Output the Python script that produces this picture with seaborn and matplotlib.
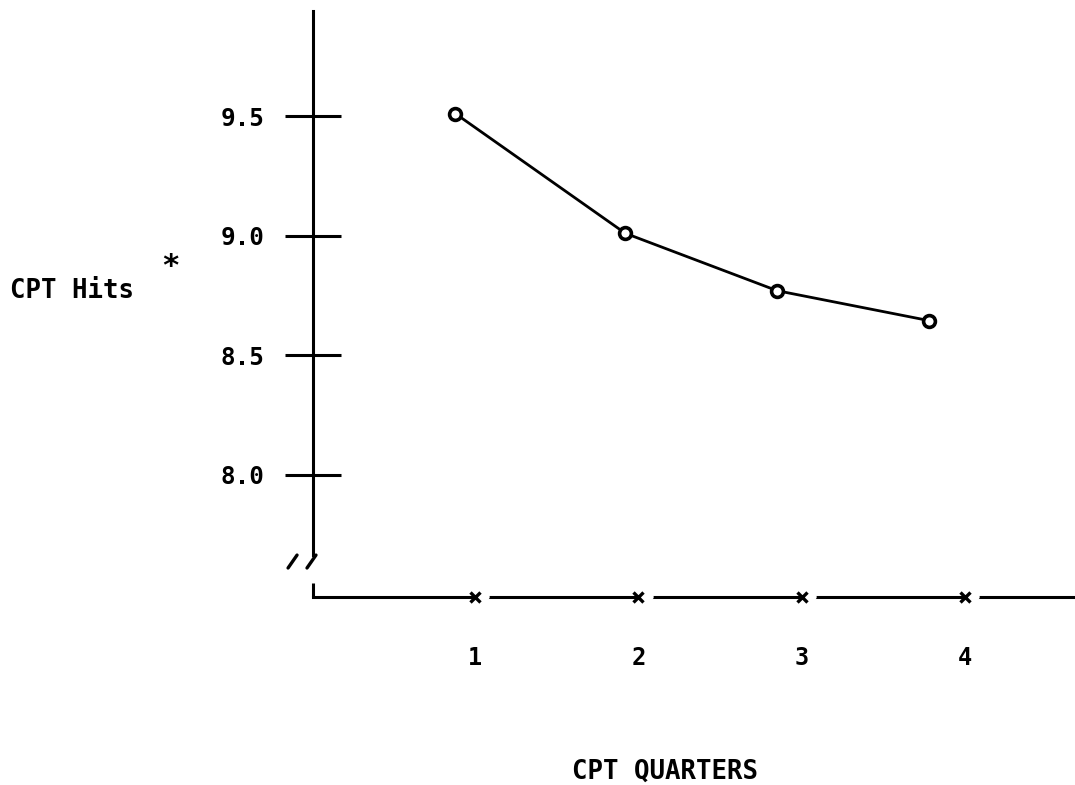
import matplotlib
matplotlib.use("Agg")
import matplotlib.pyplot as plt
import seaborn as sns
import pandas as pd

# Data
quarters = [1, 2, 3, 4]
quarter_labels = ["1", "2", "3", "4"]
point_x = [0.88, 1.92, 2.85, 3.78]      # plotted positions of the points
hits = [9.51, 9.01, 8.77, 8.645]
y_ticks = [8.0, 8.5, 9.0, 9.5]
y_tick_labels = ["8.0", "8.5", "9.0", "9.5"]

sns.set_style("white")
plt.rcParams['font.family'] = ['DejaVu Sans Mono', 'DejaVu Sans']
plt.rcParams['font.weight'] = 'bold'
plt.rcParams['text.color'] = 'black'
plt.rcParams['axes.labelcolor'] = 'black'

fig = plt.figure(figsize=(10.75, 7.85), dpi=100)
ax = fig.add_axes([0, 0, 1, 1])
ax.set_xlim(-1.909, 4.674)
ax.set_ylim(6.704, 9.985)

df = pd.DataFrame({"x": point_x, "hits": hits})
sns.lineplot(data=df, x="x", y="hits", ax=ax, color="black", linewidth=2.0,
             marker="o", markersize=8.5, markerfacecolor="white",
             markeredgecolor="black", markeredgewidth=2.6)

AXIS_Y = 7.49
# spines
for s in ["top", "right"]:
    ax.spines[s].set_visible(False)
ax.spines["left"].set_position(("data", 0.008))
ax.spines["left"].set_bounds(7.665, 9.94)
ax.spines["left"].set_linewidth(2.2)
ax.spines["left"].set_color("black")
ax.spines["bottom"].set_position(("data", AXIS_Y))
ax.spines["bottom"].set_bounds(0.008, 4.674)
ax.spines["bottom"].set_linewidth(2.2)
ax.spines["bottom"].set_color("black")

# L corner and axis break
ax.plot([0.008, 0.008], [7.548, AXIS_Y], color="black", lw=2.2, solid_capstyle="butt")
ax.plot([-0.145, -0.09], [7.611, 7.665], color="black", lw=2.4)
ax.plot([-0.029, 0.026], [7.611, 7.665], color="black", lw=2.4)

# x markers and gaps on the x axis
for q in quarters:
    ax.plot([q + 0.03, q + 0.075], [AXIS_Y, AXIS_Y], color="white", lw=4, zorder=3)
ax.plot(quarters, [AXIS_Y] * len(quarters), linestyle="none", marker="x",
        color="black", markersize=7.5, markeredgewidth=2.4, zorder=4)

# ticks
ax.set_yticks(y_ticks)
ax.set_yticklabels(y_tick_labels)
ax.tick_params(axis="y", direction="inout", length=40, width=2.2, pad=15,
               labelsize=17.5, left=True, colors="black")
ax.set_xticks(quarters)
ax.set_xticklabels(quarter_labels)
ax.tick_params(axis="x", length=0, pad=35, labelsize=17, colors="black")
for lab in ax.get_xticklabels() + ax.get_yticklabels():
    lab.set_fontweight("bold")

ax.set_xlabel("CPT QUARTERS", fontsize=18.5, fontweight="bold", va="center",
              color="black")
ax.xaxis.set_label_coords(665 / 1075, 1 - 772 / 785)
ax.set_ylabel("CPT Hits", fontsize=18.5, fontweight="bold", rotation=0,
              ha="left", va="center", color="black")
ax.yaxis.set_label_coords(10 / 1075, 1 - 291 / 785)
ax.text(170 / 1075, 1 - 267 / 785, "*", transform=ax.transAxes, fontsize=22,
        fontweight="bold", ha="center", va="center", color="black")

fig.savefig("out.png", dpi=100, facecolor="white")
